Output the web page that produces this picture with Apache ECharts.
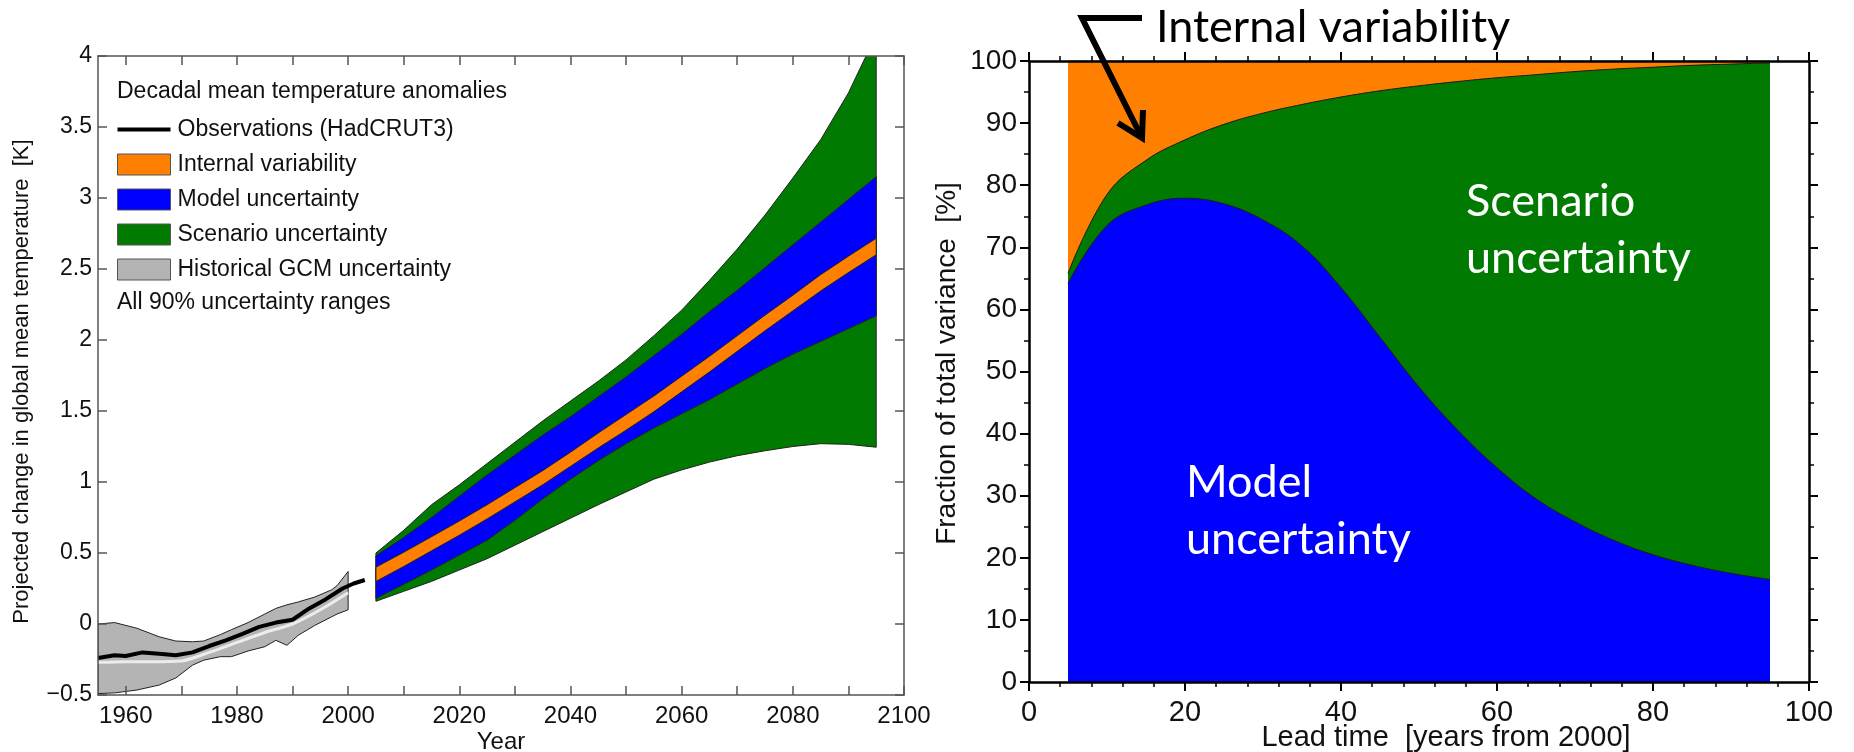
<html>
<head>
<meta charset="utf-8">
<title>Decadal mean temperature uncertainty</title>
<style>
  html, body { margin: 0; padding: 0; background: #fff; }
  #chart { width: 1854px; height: 752px; }
</style>
</head>
<body>
<div id="chart"></div>
<script src="https://cdn.jsdelivr.net/npm/echarts@6.0.0/dist/echarts.min.js"></script>
<script>
// ---------- left panel: observations and historical GCM range
var obsYears = [1955, 1958, 1960, 1963, 1966, 1969, 1972, 1975, 1978, 1981, 1984, 1987, 1990, 1993, 1996, 1999, 2001, 2003];
var obsTemp  = [-0.24, -0.22, -0.225, -0.2, -0.21, -0.22, -0.2, -0.155, -0.115, -0.07, -0.02, 0.01, 0.03, 0.11, 0.175, 0.25, 0.285, 0.31];

var gcmYears = [1955, 1960, 1965, 1970, 1975, 1980, 1985, 1990, 1995, 2000];
var gcmMean  = [-0.27, -0.265, -0.265, -0.26, -0.2, -0.13, -0.06, 0.0, 0.1, 0.22];

var histYears = [1955, 1958, 1962, 1966, 1969, 1972, 1974, 1977, 1979, 1982, 1985, 1987, 1989, 1991, 1994, 1997, 1998, 2000];
var histUpper = [0.0, 0.01, -0.03, -0.09, -0.12, -0.125, -0.12, -0.075, -0.04, 0.01, 0.07, 0.11, 0.135, 0.155, 0.19, 0.24, 0.27, 0.37];
var histLower = [-0.49, -0.485, -0.465, -0.43, -0.38, -0.29, -0.255, -0.23, -0.23, -0.19, -0.16, -0.115, -0.15, -0.08, -0.01, 0.05, 0.07, 0.1];

// ---------- left panel: projected 90% ranges (2005-2095)
var projYears    = [2005, 2010, 2015, 2020, 2025, 2030, 2035, 2040, 2045, 2050, 2055, 2060, 2065, 2070, 2075, 2080, 2085, 2090, 2095];
var scenarioHigh = [0.5, 0.66, 0.84, 0.98, 1.13, 1.28, 1.43, 1.57, 1.71, 1.86, 2.03, 2.21, 2.42, 2.64, 2.88, 3.14, 3.41, 3.74, 4.15];
var modelHigh    = [0.48, 0.61, 0.75, 0.9, 1.05, 1.19, 1.33, 1.46, 1.6, 1.74, 1.89, 2.04, 2.2, 2.35, 2.51, 2.67, 2.83, 2.99, 3.15];
var internalHigh = [0.4, 0.505, 0.615, 0.725, 0.84, 0.96, 1.08, 1.21, 1.345, 1.475, 1.605, 1.745, 1.885, 2.03, 2.175, 2.315, 2.46, 2.59, 2.716];
var internalLow  = [0.3, 0.405, 0.515, 0.625, 0.74, 0.86, 0.98, 1.11, 1.24, 1.365, 1.495, 1.635, 1.775, 1.92, 2.065, 2.205, 2.345, 2.475, 2.6];
var modelLow     = [0.18, 0.28, 0.38, 0.485, 0.59, 0.73, 0.88, 1.02, 1.15, 1.27, 1.38, 1.48, 1.58, 1.69, 1.8, 1.9, 1.99, 2.08, 2.17];
var scenarioLow  = [0.16, 0.23, 0.3, 0.38, 0.46, 0.555, 0.65, 0.745, 0.84, 0.93, 1.02, 1.085, 1.14, 1.185, 1.22, 1.25, 1.27, 1.265, 1.245];

var yearTicks  = [1960, 1970, 1980, 1990, 2000, 2010, 2020, 2030, 2040, 2050, 2060, 2070, 2080, 2090, 2100];
var yearLabels = [1960, 1980, 2000, 2020, 2040, 2060, 2080, 2100];

// ---------- right panel: fraction of total variance [%]
var leadTime      = [5, 10, 15, 20, 25, 30, 35, 40, 45, 50, 55, 60, 65, 70, 75, 80, 85, 90, 95];
var modelShare    = [64.2, 73.5, 76.8, 77.9, 77.0, 74.4, 70.2, 63.5, 55.5, 47.5, 40.5, 34.5, 29.5, 25.8, 22.8, 20.5, 18.8, 17.5, 16.5];
var scenarioShare = [1.6, 5.0, 7.2, 9.4, 12.8, 17.2, 22.8, 30.7, 39.7, 48.5, 56.2, 62.8, 68.3, 72.5, 75.9, 78.5, 80.5, 82.0, 83.2];
var internalShare = [34.2, 21.5, 16.0, 12.7, 10.2, 8.4, 7.0, 5.8, 4.8, 4.0, 3.3, 2.7, 2.2, 1.7, 1.3, 1.0, 0.7, 0.5, 0.3];

var ORANGE = '#ff8000';
var BLUE = '#0000ff';
var GREEN = '#007a00';
var GREY = '#b4b4b4';

var helv = 'Liberation Sans, Arial, sans-serif';
var narrow = 'Liberation Sans Narrow, Arial Narrow, Liberation Sans, sans-serif';
var gill = 'Lato, Open Sans, sans-serif';

function pairs(xs, ys) {
  return xs.map(function (x, i) { return [x, ys[i]]; });
}

// filled band between lo and hi, drawn as one polygon through the cartesian scales
function band(name, xs, lo, hi, fill) {
  var rows = xs.map(function (x, i) { return [x, lo[i], hi[i]]; });
  return {
    type: 'custom', name: name, coordinateSystem: 'cartesian2d',
    xAxisIndex: 0, yAxisIndex: 0, silent: true, clip: true,
    data: rows, encode: { x: 0, y: [1, 2] },
    itemStyle: { color: fill },
    renderItem: function (params, api) {
      if (params.dataIndex !== 0) return;
      var pts = [];
      for (var i = 0; i < rows.length; i++) pts.push(api.coord([rows[i][0], rows[i][2]]));
      for (var j = rows.length - 1; j >= 0; j--) pts.push(api.coord([rows[j][0], rows[j][1]]));
      return {
        type: 'polygon',
        shape: { points: pts },
        style: { fill: fill, stroke: '#222', lineWidth: 1 }
      };
    }
  };
}

// right panel: cumulative line filled down to 0
function shareArea(name, xs, ys, fill) {
  return {
    type: 'line', name: name, xAxisIndex: 2, yAxisIndex: 2,
    data: pairs(xs, ys), symbol: 'none', smooth: 0.4, silent: true,
    lineStyle: { color: '#1a1a1a', width: 1 },
    itemStyle: { color: fill },
    areaStyle: { color: fill, opacity: 1, origin: 'start' }
  };
}

var greenTop = modelShare.map(function (v, i) { return v + scenarioShare[i]; });
var orangeTop = greenTop.map(function (v, i) { return v + internalShare[i]; });

function fmtTemp(v) {
  if (v < 0) return '\u2212' + (-v);
  return String(v);
}

var leftAxisLine = { show: true, onZero: false, lineStyle: { color: '#555', width: 1.5 } };
var leftTick = { show: true, inside: true, length: 9, lineStyle: { color: '#555', width: 1.5 } };
var rightAxisLine = { show: true, onZero: false, lineStyle: { color: '#000', width: 2.5 } };
var rightTick = { show: true, inside: false, length: 9, lineStyle: { color: '#000', width: 2 } };
var rightMinor = { show: true, length: 5, lineStyle: { color: '#000', width: 1.5 } };

var chart = echarts.init(document.getElementById('chart'));

var option = {
  animation: false,
  backgroundColor: '#fff',
  grid: [
    { left: 98, top: 56, width: 806, height: 639, outerBoundsMode: 'none', containLabel: false },
    { left: 1029, top: 61, width: 780, height: 621, outerBoundsMode: 'none', containLabel: false }
  ],
  xAxis: [
    {
      gridIndex: 0, type: 'value', min: 1955, max: 2100, z: 10,
      name: 'Year', nameLocation: 'middle', nameGap: 35, nameMoveOverlap: false,
      nameTextStyle: { fontFamily: narrow, fontSize: 24, color: '#111' },
      axisLine: leftAxisLine,
      axisTick: Object.assign({ customValues: yearTicks }, leftTick),
      axisLabel: {
        customValues: yearLabels, margin: 9, fontFamily: narrow, fontSize: 24, color: '#111',
        formatter: function (v) { return String(v); }
      },
      splitLine: { show: false }
    },
    {
      gridIndex: 0, type: 'value', min: 1955, max: 2100, position: 'top', z: 10,
      axisLine: leftAxisLine,
      axisTick: Object.assign({ customValues: yearTicks }, leftTick),
      axisLabel: { show: false }, splitLine: { show: false }
    },
    {
      gridIndex: 1, type: 'value', min: 0, max: 100, interval: 20, z: 10,
      name: 'Lead time  [years from 2000]', nameLocation: 'middle', nameGap: 41, nameMoveOverlap: false,
      nameTextStyle: { fontFamily: helv, fontSize: 29, color: '#111', padding: [0, 0, 0, 54] },
      axisLine: rightAxisLine, axisTick: rightTick,
      minorTick: Object.assign({ splitNumber: 5 }, rightMinor),
      axisLabel: { margin: 16, fontFamily: helv, fontSize: 29, color: '#111' },
      splitLine: { show: false }, minorSplitLine: { show: false }
    },
    {
      gridIndex: 1, type: 'value', min: 0, max: 100, interval: 20, position: 'top', z: 10,
      axisLine: rightAxisLine, axisTick: rightTick,
      minorTick: Object.assign({ splitNumber: 5 }, rightMinor),
      axisLabel: { show: false }, splitLine: { show: false }
    }
  ],
  yAxis: [
    {
      gridIndex: 0, type: 'value', min: -0.5, max: 4, interval: 0.5, z: 10,
      name: 'Projected change in global mean temperature  [K]', nameLocation: 'middle', nameGap: 65,
      nameMoveOverlap: false,
      nameTextStyle: { fontFamily: helv, fontSize: 22, color: '#111', padding: [0, 12, 0, 0] },
      axisLine: leftAxisLine, axisTick: leftTick,
      axisLabel: { formatter: fmtTemp, margin: 6, fontFamily: helv, fontSize: 23, color: '#111' },
      splitLine: { show: false }
    },
    {
      gridIndex: 0, type: 'value', min: -0.5, max: 4, interval: 0.5, position: 'right', z: 10,
      axisLine: leftAxisLine, axisTick: leftTick,
      axisLabel: { show: false }, splitLine: { show: false }
    },
    {
      gridIndex: 1, type: 'value', min: 0, max: 100, interval: 10, z: 10,
      name: 'Fraction of total variance  [%]', nameLocation: 'middle', nameGap: 68,
      nameMoveOverlap: false,
      nameTextStyle: { fontFamily: helv, fontSize: 28, color: '#111', padding: [0, 0, 0, 16] },
      axisLine: rightAxisLine, axisTick: rightTick,
      minorTick: Object.assign({ splitNumber: 2 }, rightMinor),
      axisLabel: { margin: 12, fontFamily: helv, fontSize: 28, color: '#111' },
      splitLine: { show: false }, minorSplitLine: { show: false }
    },
    {
      gridIndex: 1, type: 'value', min: 0, max: 100, interval: 10, position: 'right', z: 10,
      axisLine: rightAxisLine, axisTick: rightTick,
      minorTick: Object.assign({ splitNumber: 2 }, rightMinor),
      axisLabel: { show: false }, splitLine: { show: false }
    }
  ],
  legend: {
    left: 117, top: 118, orient: 'vertical', padding: 0,
    itemWidth: 53, itemHeight: 21, itemGap: 12,
    selectedMode: false,
    textStyle: { fontFamily: helv, fontSize: 23, lineHeight: 23, color: '#111', padding: [0, 0, 0, 2] },
    data: [
      { name: 'Observations (HadCRUT3)', icon: 'path://M0,0 L53,0 L53,4 L0,4 Z', itemStyle: { color: '#000' } },
      { name: 'Internal variability', icon: 'rect', itemStyle: { color: ORANGE, borderColor: '#555', borderWidth: 1 } },
      { name: 'Model uncertainty', icon: 'rect', itemStyle: { color: BLUE, borderColor: '#555', borderWidth: 1 } },
      { name: 'Scenario uncertainty', icon: 'rect', itemStyle: { color: GREEN, borderColor: '#555', borderWidth: 1 } },
      { name: 'Historical GCM uncertainty', icon: 'rect', itemStyle: { color: GREY, borderColor: '#555', borderWidth: 1 } }
    ]
  },
  graphic: [
    { type: 'text', z: 100, left: 117, top: 80, style: { text: 'Decadal mean temperature anomalies', font: '23px ' + helv, fill: '#111' } },
    { type: 'text', z: 100, left: 117, top: 291, style: { text: 'All 90% uncertainty ranges', font: '23px ' + helv, fill: '#111' } },
    { type: 'text', z: 100, left: 1156, top: 5, style: { text: 'Internal variability', font: '45px ' + gill, fill: '#000' } },
    { type: 'text', z: 100, left: 1466, top: 173, style: { text: 'Scenario\nuncertainty', font: '45px ' + gill, lineHeight: 57, fill: '#fff' } },
    { type: 'text', z: 100, left: 1186, top: 454, style: { text: 'Model\nuncertainty', font: '45px ' + gill, lineHeight: 57, fill: '#fff' } },
    {
      type: 'polyline', z: 100,
      shape: { points: [[1142, 18], [1082, 18], [1142, 138]] },
      style: { stroke: '#000', lineWidth: 6, fill: null, lineJoin: 'miter' }
    },
    {
      type: 'polyline', z: 100,
      shape: { points: [[1118, 123], [1142, 138], [1143, 110]] },
      style: { stroke: '#000', lineWidth: 6, fill: null, lineJoin: 'miter' }
    }
  ],
  series: [
    band('Historical GCM uncertainty', histYears, histLower, histUpper, GREY),
    {
      type: 'line', name: 'GCM mean', xAxisIndex: 0, yAxisIndex: 0, silent: true,
      data: pairs(gcmYears, gcmMean), symbol: 'none', smooth: 0.3,
      lineStyle: { color: '#ececec', width: 3 }
    },
    {
      type: 'line', name: 'Observations (HadCRUT3)', xAxisIndex: 0, yAxisIndex: 0, silent: true,
      data: pairs(obsYears, obsTemp), symbol: 'none',
      lineStyle: { color: '#000', width: 4 }, itemStyle: { color: '#000' }
    },
    band('Scenario uncertainty', projYears, scenarioLow, scenarioHigh, GREEN),
    band('Model uncertainty', projYears, modelLow, modelHigh, BLUE),
    band('Internal variability', projYears, internalLow, internalHigh, ORANGE),
    shareArea('internal-share', leadTime, orangeTop, ORANGE),
    shareArea('scenario-share', leadTime, greenTop, GREEN),
    shareArea('model-share', leadTime, modelShare, BLUE)
  ]
};

chart.setOption(option);
</script>
</body>
</html>
